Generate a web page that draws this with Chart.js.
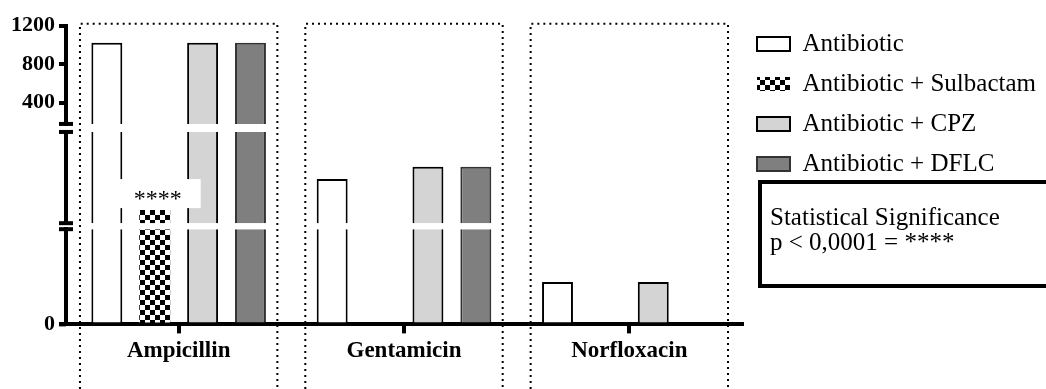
<!DOCTYPE html>
<html>
<head>
<meta charset="utf-8">
<script src="https://cdn.jsdelivr.net/npm/chart.js@4.4.1/dist/chart.umd.min.js"></script>
<style>
  body { margin: 0; background: #fff; overflow: hidden; }
  #wrap { position: relative; width: 1046px; height: 389px; }
  #sig {
    position: absolute; left: 758px; top: 180px; width: 320px; height: 80px;
    border: 4px solid #000; padding: 20px 0 0 8px;
    font-family: 'Liberation Serif', serif; font-size: 25px; line-height: 25px; color: #000;
  }
</style>
</head>
<body>
<div id="wrap">
  <canvas id="micChart"></canvas>
  <div id="sig">Statistical Significance<br>p &lt; 0,0001 = ****</div>
</div>
<script>
const categories = ['Ampicillin', 'Gentamicin', 'Norfloxacin'];
const seriesNames = ['Antibiotic', 'Antibiotic + Sulbactam', 'Antibiotic + CPZ', 'Antibiotic + DFLC'];

// values (broken axis, so the lower parts are estimates)
const antibiotic = [1024, 39, 4];
const sulbactam = [18.6, null, null];
const cpz = [1024, 47.1, 4];
const dflc = [1024, 47.1, null];
const sulbactamSig = ['****', '', ''];

const topTicks = [400, 800, 1200];
const bottomTicks = [0];
const topRange = [180, 1200];
const midRange = [10, 70];
const bottomRange = [0, 9];

Chart.defaults.font.family = "'Liberation Serif', serif";
Chart.defaults.color = '#000';

// checkerboard fill for the sulbactam bars
function checkerPattern() {
    const c = document.createElement('canvas');
    c.width = 10; c.height = 10;
    const g = c.getContext('2d');
    g.fillStyle = '#fff';
    g.fillRect(0, 0, 10, 10);
    g.fillStyle = '#000';
    g.fillRect(0, 0, 5, 5);
    g.fillRect(5, 5, 5, 5);
    return g.createPattern(c, 'repeat');
}

const seriesData = [antibiotic, sulbactam, cpz, dflc];
const seriesStyle = [
    { backgroundColor: '#ffffff', borderColor: '#000', borderWidth: 2 },
    { backgroundColor: checkerPattern(), borderColor: '#000', borderWidth: 0 },
    { backgroundColor: '#d4d4d4', borderColor: '#000', borderWidth: 2 },
    { backgroundColor: '#7f7f7f', borderColor: '#333', borderWidth: 2 }
];
const segmentIds = ['yTop', 'yMid', 'yBot'];

const datasets = [];
seriesNames.forEach((name, s) => {
    segmentIds.forEach(id => {
        datasets.push(Object.assign({
            label: name,
            data: seriesData[s],
            yAxisID: id,
            stack: name,
            categoryPercentage: 0.85,
            barPercentage: 0.646,
            borderSkipped: 'start'
        }, seriesStyle[s]));
    });
});

const brokenAxis = {
    id: 'brokenAxis',
    beforeDatasetDraw(chart, args) {
        // every segment only shows its own slice of the bars
        const y = args.meta.yScale;
        const a = chart.chartArea;
        const ctx = chart.ctx;
        ctx.save();
        ctx.beginPath();
        ctx.rect(a.left, y.top, a.right - a.left, y.bottom - y.top);
        ctx.clip();
    },
    afterDatasetDraw(chart) {
        chart.ctx.restore();
    },
    beforeDatasetsDraw(chart) {
        const ctx = chart.ctx;
        const x = chart.scales.x;
        const top = chart.scales.yTop.top - 2;
        const half = 0.438 * (x.width / categories.length);
        ctx.save();
        ctx.strokeStyle = '#000';
        ctx.lineWidth = 2;
        ctx.setLineDash([2, 4]);
        categories.forEach((c, i) => {
            const cx = x.getPixelForValue(i);
            ctx.beginPath();
            ctx.moveTo(cx - half, chart.height);
            ctx.lineTo(cx - half, top);
            ctx.lineTo(cx + half, top);
            ctx.lineTo(cx + half, chart.height);
            ctx.stroke();
        });
        ctx.restore();
    },
    afterDatasetsDraw(chart) {
        const ctx = chart.ctx;
        const ax = chart.scales.yTop.right;
        const marks = [chart.scales.yTop.bottom, chart.scales.yMid.top, chart.scales.yMid.bottom, chart.scales.yBot.top];
        ctx.save();
        ctx.strokeStyle = '#000';
        ctx.lineWidth = 4;
        marks.forEach(m => {
            ctx.beginPath();
            ctx.moveTo(ax - 7, m);
            ctx.lineTo(ax + 7, m);
            ctx.stroke();
        });
        // x axis runs a little past the y axis, as in the original
        ctx.beginPath();
        ctx.moveTo(ax - 7, chart.scales.x.top);
        ctx.lineTo(ax, chart.scales.x.top);
        ctx.stroke();
        // significance label above the sulbactam bar
        const idx = chart.data.datasets.findIndex(d => d.label === seriesNames[1] && d.yAxisID === 'yMid');
        const meta = chart.getDatasetMeta(idx);
        sulbactamSig.forEach((txt, i) => {
            const bar = meta.data[i];
            if (!txt || !bar || sulbactam[i] == null) return;
            ctx.fillStyle = '#fff';
            ctx.fillRect(bar.x - 35, bar.y - 31, 81, 29);
            ctx.fillStyle = '#000';
            ctx.font = "24px 'Liberation Serif'";
            ctx.textAlign = 'center';
            ctx.textBaseline = 'alphabetic';
            ctx.fillText(txt, bar.x + 3, bar.y - 4);
        });
        ctx.restore();
    }
};

const yTickStyle = {
    grid: { drawOnChartArea: false, tickLength: 7, lineWidth: 4, color: '#000' },
    border: { width: 4, color: '#000' },
    ticks: { padding: 4, autoSkip: false, font: { size: 22, weight: 'bold' }, color: '#000', callback: v => String(v) }
};

// left-side boxes are stacked in reverse order, so the bottom segment comes first
const yScales = {
    yBot: Object.assign({
        type: 'linear', min: bottomRange[0], max: bottomRange[1], stack: 'v', stackWeight: 95,
        afterBuildTicks: s => { s.ticks = bottomTicks.map(v => ({ value: v })); }
    }, yTickStyle),
    yGap2: { type: 'linear', display: false, stack: 'v', stackWeight: 6 },
    yMid: {
        type: 'linear', min: midRange[0], max: midRange[1], stack: 'v', stackWeight: 91,
        grid: { display: false },
        border: { width: 4, color: '#000' },
        ticks: { display: false }
    },
    yGap1: { type: 'linear', display: false, stack: 'v', stackWeight: 8 },
    yTop: Object.assign({
        type: 'linear', min: topRange[0], max: topRange[1], stack: 'v', stackWeight: 98,
        afterBuildTicks: s => { s.ticks = topTicks.map(v => ({ value: v })); }
    }, yTickStyle),
    yPad: { type: 'linear', display: false, stack: 'v', stackWeight: 8.5 }
};

new Chart(document.getElementById('micChart'), {
    type: 'bar',
    data: { labels: categories, datasets: datasets },
    options: {
        responsive: true,
        maintainAspectRatio: false,
        animation: false,
        layout: { padding: { top: 16.5, left: 7, right: 0, bottom: 20 } },
        plugins: {
            tooltip: { enabled: false },
            legend: {
                position: 'right',
                align: 'start',
                maxWidth: 320,
                labels: {
                    boxWidth: 33,
                    boxHeight: 14,
                    padding: 15,
                    color: '#000',
                    font: { size: 25 },
                    filter: (item, data) => data.datasets[item.datasetIndex].yAxisID === 'yBot'
                }
            }
        },
        scales: Object.assign({
            x: {
                z: 1,
                grid: { offset: false, drawOnChartArea: false, tickLength: 9, lineWidth: 4, color: '#000' },
                border: { width: 4, color: '#000' },
                ticks: { padding: 4, font: { size: 23, weight: 'bold' }, color: '#000' }
            }
        }, yScales)
    },
    plugins: [brokenAxis]
});
</script>
</body>
</html>
